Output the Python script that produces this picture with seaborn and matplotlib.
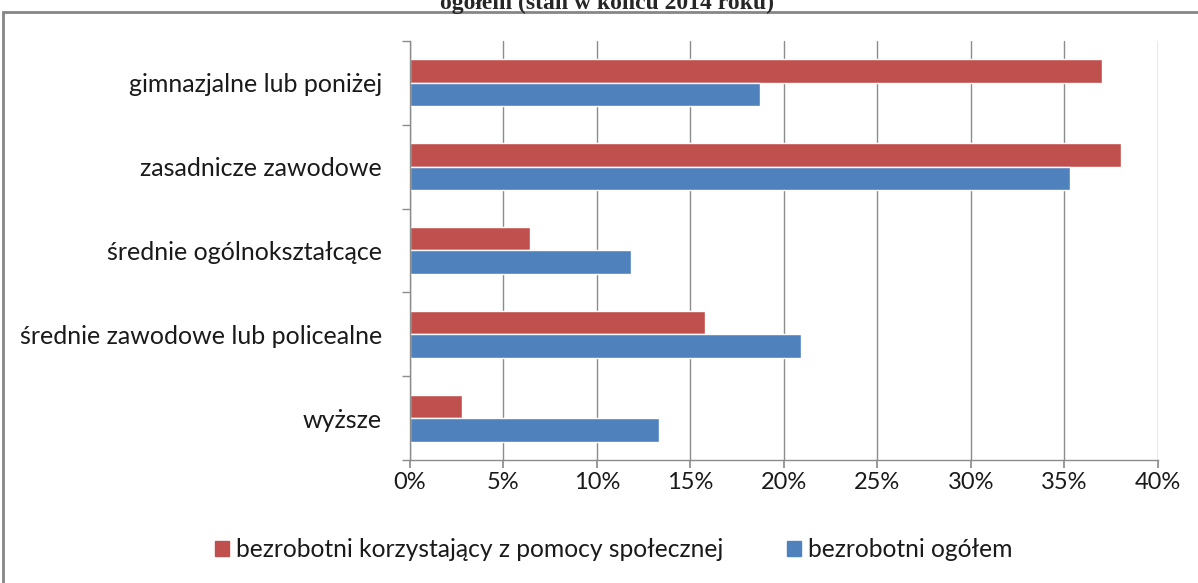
import matplotlib
matplotlib.use("Agg")
import matplotlib.pyplot as plt
import matplotlib.patches as mpatches
from matplotlib.ticker import PercentFormatter, FixedLocator
import seaborn as sns
import pandas as pd

# Data (percent)
categories = ["gimnazjalne lub poniżej", "zasadnicze zawodowe", "średnie ogólnokształcące",
              "średnie zawodowe lub policealne", "wyższe"]
series_names = ["bezrobotni korzystający z pomocy społecznej", "bezrobotni ogółem"]
pomoc_spoleczna = [37.0, 38.0, 6.4, 15.8, 2.8]
ogolem = [18.7, 35.3, 11.8, 20.9, 13.3]
colors = ["#C0504D", "#4F81BD"]

df = pd.DataFrame({
    "kategoria": categories * 2,
    "seria": [series_names[0]] * len(categories) + [series_names[1]] * len(categories),
    "wartosc": pomoc_spoleczna + ogolem,
})

sns.set_theme(style="white")
plt.rcParams["font.family"] = ["Lato", "DejaVu Sans"]

fig = plt.figure(figsize=(11.98, 5.83), dpi=100)
ax = fig.add_axes([0.3422, 0.211, 0.6244, 0.7187])

sns.barplot(data=df, y="kategoria", x="wartosc", hue="seria", order=categories,
            hue_order=series_names, palette=colors, orient="h", width=0.56,
            saturation=1, ax=ax, legend=False)

ax.set_xlim(0, 40)
ax.set_ylim(len(categories) - 0.5, -0.5)
ax.set_xticks(range(0, 41, 5))
ax.xaxis.set_major_formatter(PercentFormatter(xmax=100, decimals=0))
ax.set_xlabel("")
ax.set_ylabel("")
ax.grid(axis="x", color="#8c8c8c", linewidth=1)
ax.set_axisbelow(True)

for side in ["top", "right"]:
    ax.spines[side].set_visible(False)
for side in ["left", "bottom"]:
    ax.spines[side].set_color("#8c8c8c")
    ax.spines[side].set_linewidth(1)

ax.tick_params(axis="x", which="major", direction="out", length=6, color="#8c8c8c",
               bottom=True, labelsize=17, pad=3)
ax.tick_params(axis="y", which="major", length=0, labelsize=18, pad=20)
ax.yaxis.set_minor_locator(FixedLocator([i - 0.5 for i in range(len(categories) + 1)]))
ax.tick_params(axis="y", which="minor", direction="out", length=6, color="#8c8c8c", left=True)
for lbl in ax.get_xticklabels() + ax.get_yticklabels():
    lbl.set_color("#1a1a1a")

handles = [mpatches.Patch(color=c, label=n) for c, n in zip(colors, series_names)]
fig.legend(handles=handles, loc="center", bbox_to_anchor=(0.512, 0.057), ncol=2,
           frameon=False, fontsize=17.7, labelcolor="#1a1a1a", handlelength=0.6,
           handleheight=0.6, handletextpad=0.25, columnspacing=2.6)

# outer chart frame and truncated title above it
fig.patches.append(mpatches.Rectangle((3 / 1198, -0.05), 1.1, 1 - 12 / 583 + 0.05,
                                      transform=fig.transFigure, fill=False,
                                      edgecolor="#868686", linewidth=2))
fig.text(0.507, 1 - 9 / 583, "ogółem (stan w końcu 2014 roku)", ha="center", va="baseline",
         family="Liberation Serif", fontweight="bold", fontsize=17)

fig.savefig("out.png", dpi=100)
